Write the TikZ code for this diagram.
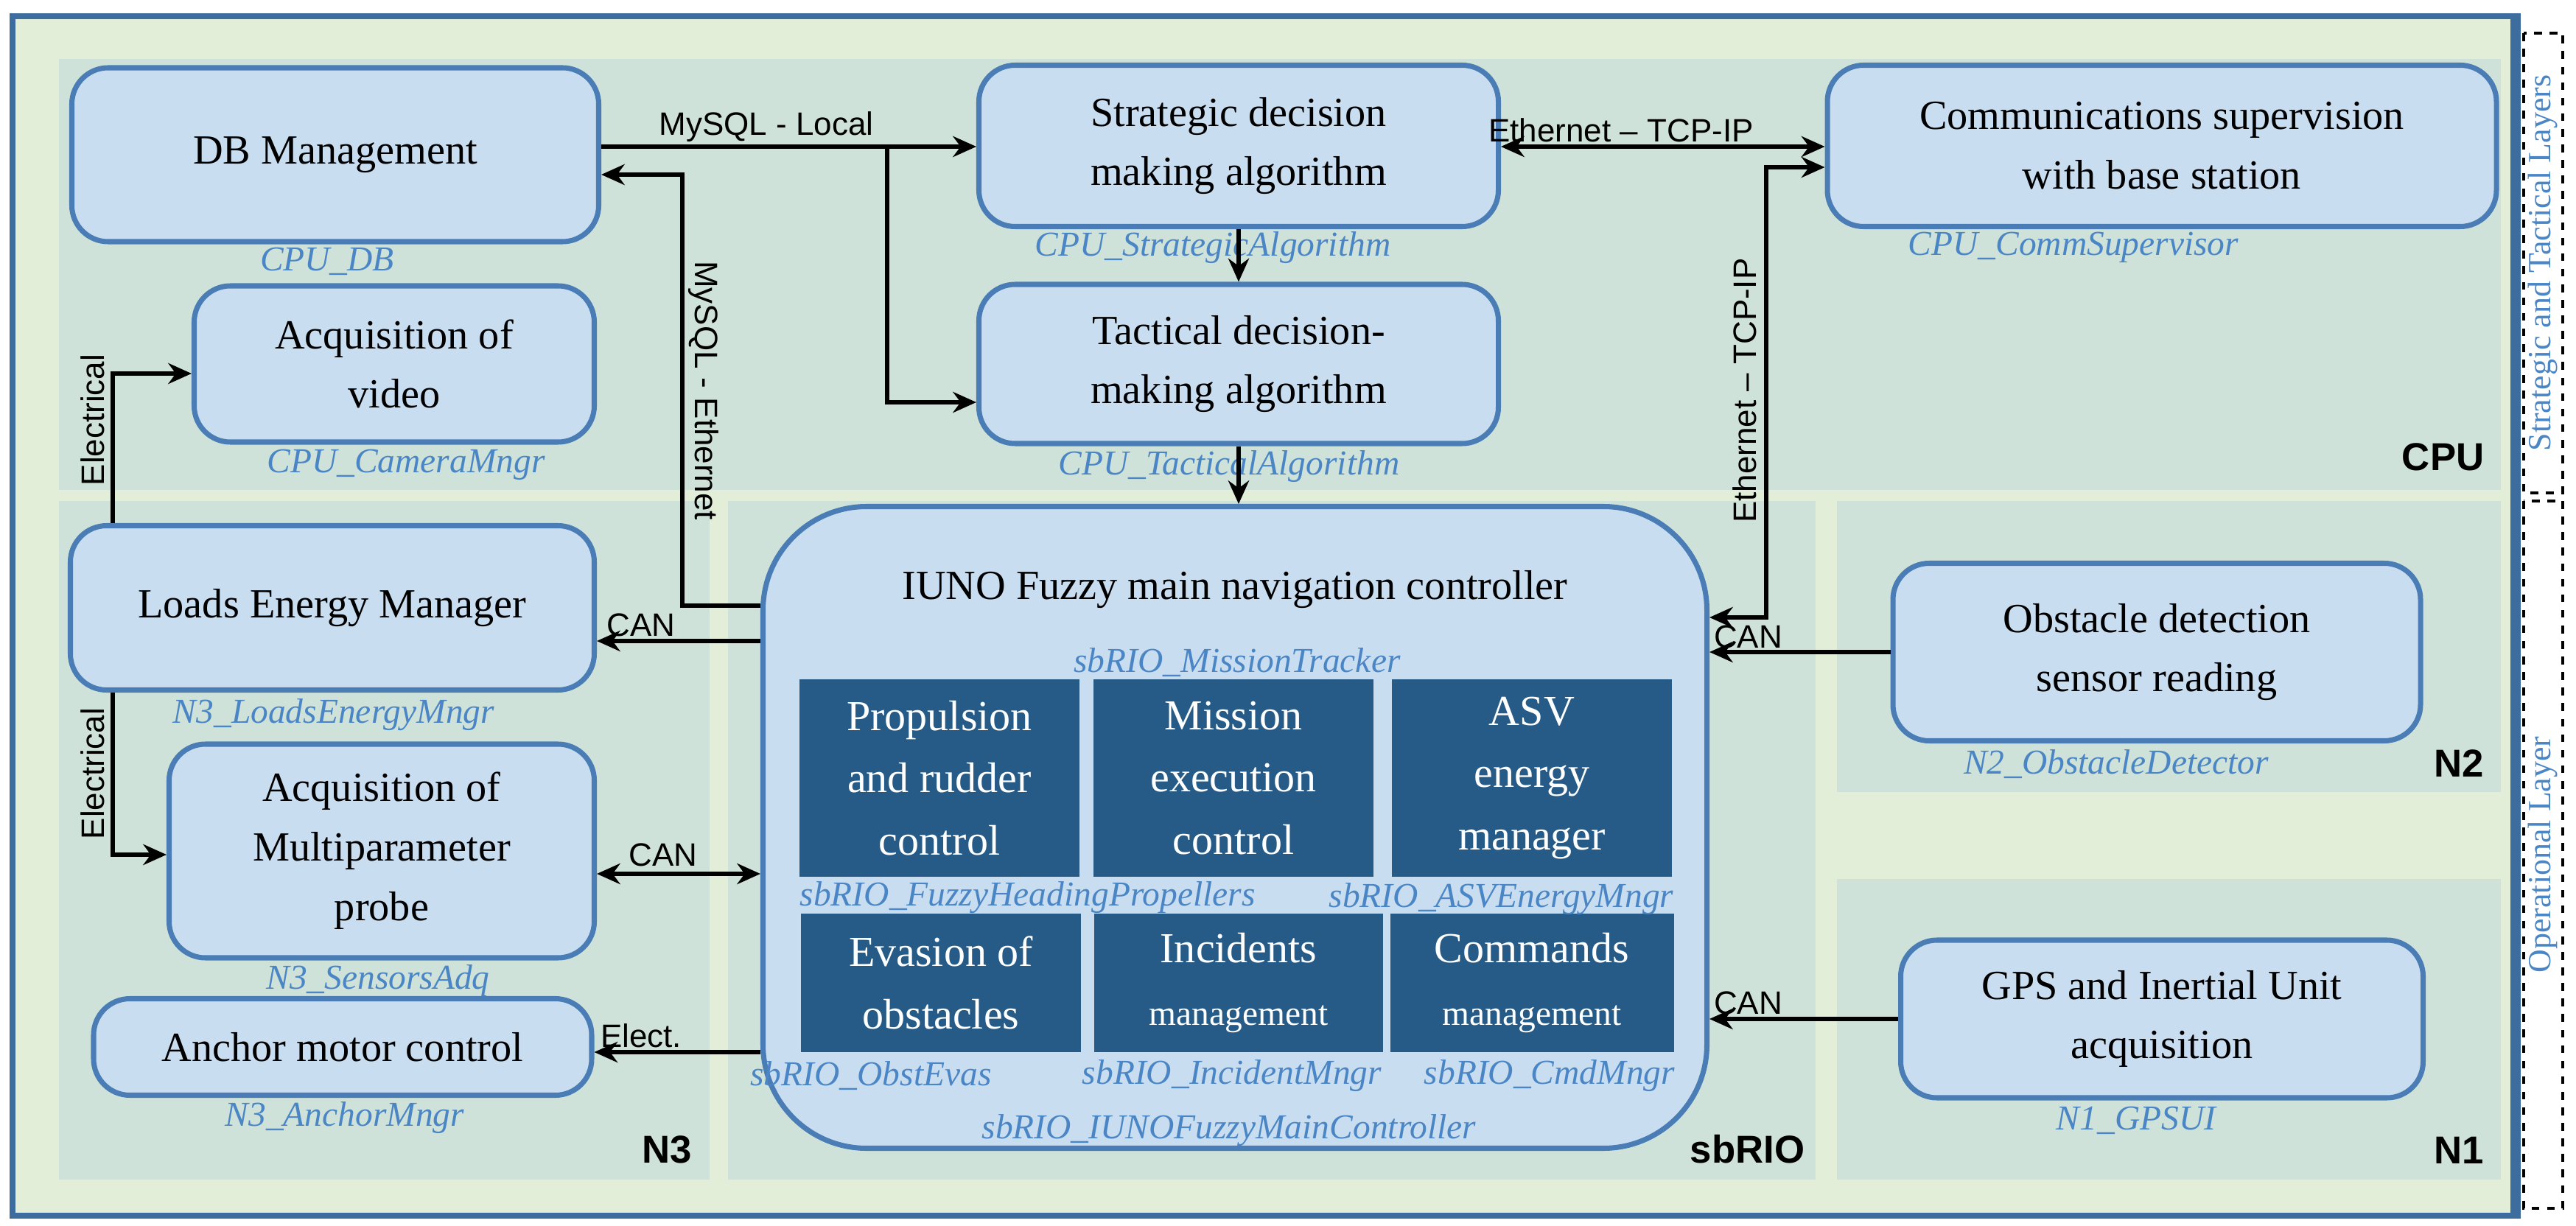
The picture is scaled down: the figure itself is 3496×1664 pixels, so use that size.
\documentclass[tikz,border=0pt]{standalone}
\usepackage{fontspec}
\setmainfont{Liberation Serif}
\newfontfamily\sansf{Liberation Sans}
\usetikzlibrary{calc,arrows.meta}
\definecolor{bgout}{HTML}{E2EED8}
\definecolor{frameb}{HTML}{3D6D9E}
\definecolor{panel}{HTML}{CFE2D9}
\definecolor{nodef}{HTML}{C9DDF0}
\definecolor{nodeb}{HTML}{4A7DB5}
\definecolor{dark}{HTML}{265B87}
\definecolor{lblue}{HTML}{4A86C5}
\newlength{\pxu}\setlength{\pxu}{0.01cm}
\tikzset{
 box/.style={draw=nodeb,line width=2pt,fill=nodef,rounded corners=14pt,align=center,font=\fontsize{16}{23}\selectfont,inner sep=2pt},
 dbox/.style={fill=dark,text=white,align=center,font=\fontsize{16.5}{24}\selectfont,inner sep=0pt,minimum width=380\pxu,minimum height=268\pxu},
 lab/.style={text=lblue,font=\fontsize{13.5}{16}\selectfont\itshape,inner sep=0pt},
 clab/.style={font=\sansf\fontsize{12.5}{15}\selectfont,inner sep=1pt},
 plab/.style={font=\sansf\bfseries\fontsize{15}{18}\selectfont,inner sep=0pt},
 conn/.style={line width=1.6pt,-{Stealth[length=9pt,width=8pt]}},
 conn2/.style={line width=1.6pt,{Stealth[length=9pt,width=8pt]}-{Stealth[length=9pt,width=8pt]}},
 pnl/.style={fill=panel,draw=none}
}
\begin{document}
\begin{tikzpicture}[x=0.01cm,y=-0.01cm]
\useasboundingbox (0,0) rectangle (3496,1664);
\fill[white] (0,0) rectangle (3496,1664);
% outer
\fill[bgout] (17,22) rectangle (3417,1650);
\draw[frameb,line width=2.5pt] (17,22) rectangle (3417,1650);
\draw[frameb,line width=2pt] (3410,22) -- (3410,1650);
% panels
\fill[pnl] (80,80) rectangle (3394,665);
\fill[pnl] (80,680) rectangle (963,1601);
\fill[pnl] (988,680) rectangle (2464,1601);
\fill[pnl] (2493,680) rectangle (3394,1075);
\fill[pnl] (2493,1193) rectangle (3394,1601);
\node[plab,anchor=south east] (pCPU) at (3372,640) {CPU};
\node[plab,anchor=south east] (pN3) at (940,1580) {N3};
\node[plab,anchor=south east] (psb) at (2450,1580) {sbRIO};
\node[plab,anchor=south east] (pN2) at (3372,1055) {N2};
\node[plab,anchor=south east] (pN1) at (3372,1580) {N1};
% side layer boxes
\draw[dashed,line width=1pt] (3425,45) rectangle (3478,669);
\draw[dashed,line width=1pt] (3425,680) rectangle (3478,1640);
\node[rotate=90,text=lblue,font=\fontsize{12.5}{15}\selectfont] (sl1) at (3451,357) {Strategic and Tactical Layers};
\node[rotate=90,text=lblue,font=\fontsize{12.5}{15}\selectfont] (sl2) at (3451,1160) {Operational Layer};
% nodes
\node[box,minimum width=715\pxu,minimum height=236\pxu] (DB) at (455,210) {DB Management};
\node[lab] (lDB) at (444,355) {CPU\_DB};
\node[box,minimum width=543\pxu,minimum height=212\pxu] (Acq) at (535,494) {Acquisition of\\video};
\node[lab] (lAcq) at (551,631) {CPU\_CameraMngr};
\node[box,minimum width=705\pxu,minimum height=219\pxu] (Strat) at (1681,198) {Strategic decision\\making algorithm};
\node[lab] (lStrat) at (1646,336) {CPU\_StrategicAlgorithm};
\node[box,minimum width=705\pxu,minimum height=216\pxu] (Tact) at (1681,494) {Tactical decision-\\making algorithm};
\node[lab] (lTact) at (1668,633) {CPU\_TacticalAlgorithm};
\node[box,minimum width=908\pxu,minimum height=219\pxu] (Comm) at (2934,198) {Communications supervision\\with base station};
\node[lab] (lComm) at (2814,336) {CPU\_CommSupervisor};
\node[box,minimum width=711\pxu,minimum height=223\pxu] (Loads) at (451,825) {Loads Energy Manager};
\node[lab] (lLoads) at (453,970) {N3\_LoadsEnergyMngr};
\node[box,minimum width=577\pxu,minimum height=290\pxu] (Multi) at (518,1155) {Acquisition of\\Multiparameter\\probe};
\node[lab] (lMulti) at (513,1331) {N3\_SensorsAdq};
\node[box,minimum width=676\pxu,minimum height=131\pxu] (Anchor) at (465,1421) {Anchor motor control};
\node[lab] (lAnchor) at (468,1517) {N3\_AnchorMngr};
\node[box,minimum width=716\pxu,minimum height=241\pxu] (Obs) at (2927,885) {Obstacle detection\\sensor reading};
\node[lab] (lObs) at (2872,1037) {N2\_ObstacleDetector};
\node[box,minimum width=709\pxu,minimum height=214\pxu] (GPS) at (2934,1383) {GPS and Inertial Unit\\acquisition};
\node[lab] (lGPS) at (2899,1521) {N1\_GPSUI};
\node[box,rounded corners=40pt,minimum width=1281\pxu,minimum height=871\pxu] (IUNO) at (1676,1123) {};
\node[font=\fontsize{16}{23}\selectfont] (tIUNO) at (1676,800) {IUNO Fuzzy main navigation controller};
\node[lab] (lMT) at (1679,899) {sbRIO\_MissionTracker};
\node[dbox] (d1) at (1275,1056) {Propulsion\\and rudder\\control};
\node[dbox] (d2) at (1674,1056) {Mission\\execution\\control};
\node[dbox] (d3) at (2079,1056) {ASV\\energy\\manager};
\node[dbox,minimum height=188\pxu] (d4) at (1277,1334) {Evasion of\\obstacles};
\node[dbox,minimum height=188\pxu,minimum width=392\pxu] (d5) at (1681,1334) {Incidents\\\fontsize{13.5}{20}\selectfont management};
\node[dbox,minimum height=188\pxu,minimum width=385\pxu] (d6) at (2079,1334) {Commands\\\fontsize{13.5}{20}\selectfont management};
\node[lab,anchor=west] (l1) at (1085,1218) {sbRIO\_FuzzyHeadingPropellers};
\node[lab,anchor=east] (l3) at (2272,1220) {sbRIO\_ASVEnergyMngr};
\node[lab] (l4) at (1182,1460) {sbRIO\_ObstEvas};
\node[lab] (l5) at (1672,1460) {sbRIO\_IncidentMngr};
\node[lab] (l6) at (2103,1460) {sbRIO\_CmdMngr};
\node[lab] (lIUNO) at (1668,1534) {sbRIO\_IUNOFuzzyMainController};
% helper coordinates
\coordinate (yLoc) at (0,199);
\coordinate (xBr) at (1204,0);
\coordinate (yMe) at (0,822);
\coordinate (xMe) at (926,0);
\coordinate (yDBin) at (0,237);
\coordinate (xEt) at (2397,0);
\coordinate (yEt) at (0,838);
\coordinate (yCi) at (0,227);
\coordinate (yCL) at (0,870);
\coordinate (yCM) at (0,1186);
\coordinate (yEl) at (0,1428);
\coordinate (xE) at (153,0);
\coordinate (yEv) at (0,507);
\coordinate (yEm) at (0,1160);
% connectors
\draw[conn] (DB.east|-yLoc) -- (Strat.west|-yLoc);
\draw[conn] (xBr|-yLoc) |- ($(Tact.west)+(0,52)$);
\node[clab,anchor=south] (tLoc) at (1040,197) {MySQL - Local};
\draw[conn] (IUNO.west|-yMe) -| (xMe|-yDBin) -- (DB.east|-yDBin);
\node[clab,rotate=-90] (tMe) at (955,530) {MySQL - Ethernet};
\draw[conn2] (Strat.east|-yLoc) -- (Comm.west|-yLoc);
\node[clab,anchor=south] (tEt) at (2200,197) {Ethernet – TCP-IP};
\draw[conn2] (IUNO.east|-yEt) -| (xEt|-yCi) -- (Comm.west|-yCi);
\node[clab,rotate=90] (tEt2) at (2368,530) {Ethernet – TCP-IP};
\draw[conn] (Strat.south) -- (Tact.north);
\draw[conn] (Tact.south) -- (Tact.south|-IUNO.north);
\draw[conn] (Obs.west) -- (IUNO.east|-Obs.west);
\node[clab,anchor=south west] (tc1) at (2322,884) {CAN};
\draw[conn] (GPS.west) -- (IUNO.east|-GPS.west);
\node[clab,anchor=south west] (tc2) at (2322,1381) {CAN};
\draw[conn] (IUNO.west|-yCL) -- (Loads.east|-yCL);
\node[clab,anchor=south] (tc3) at (870,868) {CAN};
\draw[conn2] (Multi.east|-yCM) -- (IUNO.west|-yCM);
\node[clab,anchor=south] (tc4) at (900,1180) {CAN};
\draw[conn] (IUNO.west|-yEl) -- (Anchor.east|-yEl);
\node[clab,anchor=south] (tc5) at (870,1426) {Elect.};
\draw[conn] (Loads.north-|xE) |- (Acq.west|-yEv);
\node[clab,rotate=90] (te1) at (126,570) {Electrical};
\draw[conn] (Loads.south-|xE) |- (Multi.west|-yEm);
\node[clab,rotate=90] (te2) at (126,1050) {Electrical};
\end{tikzpicture}
\end{document}
